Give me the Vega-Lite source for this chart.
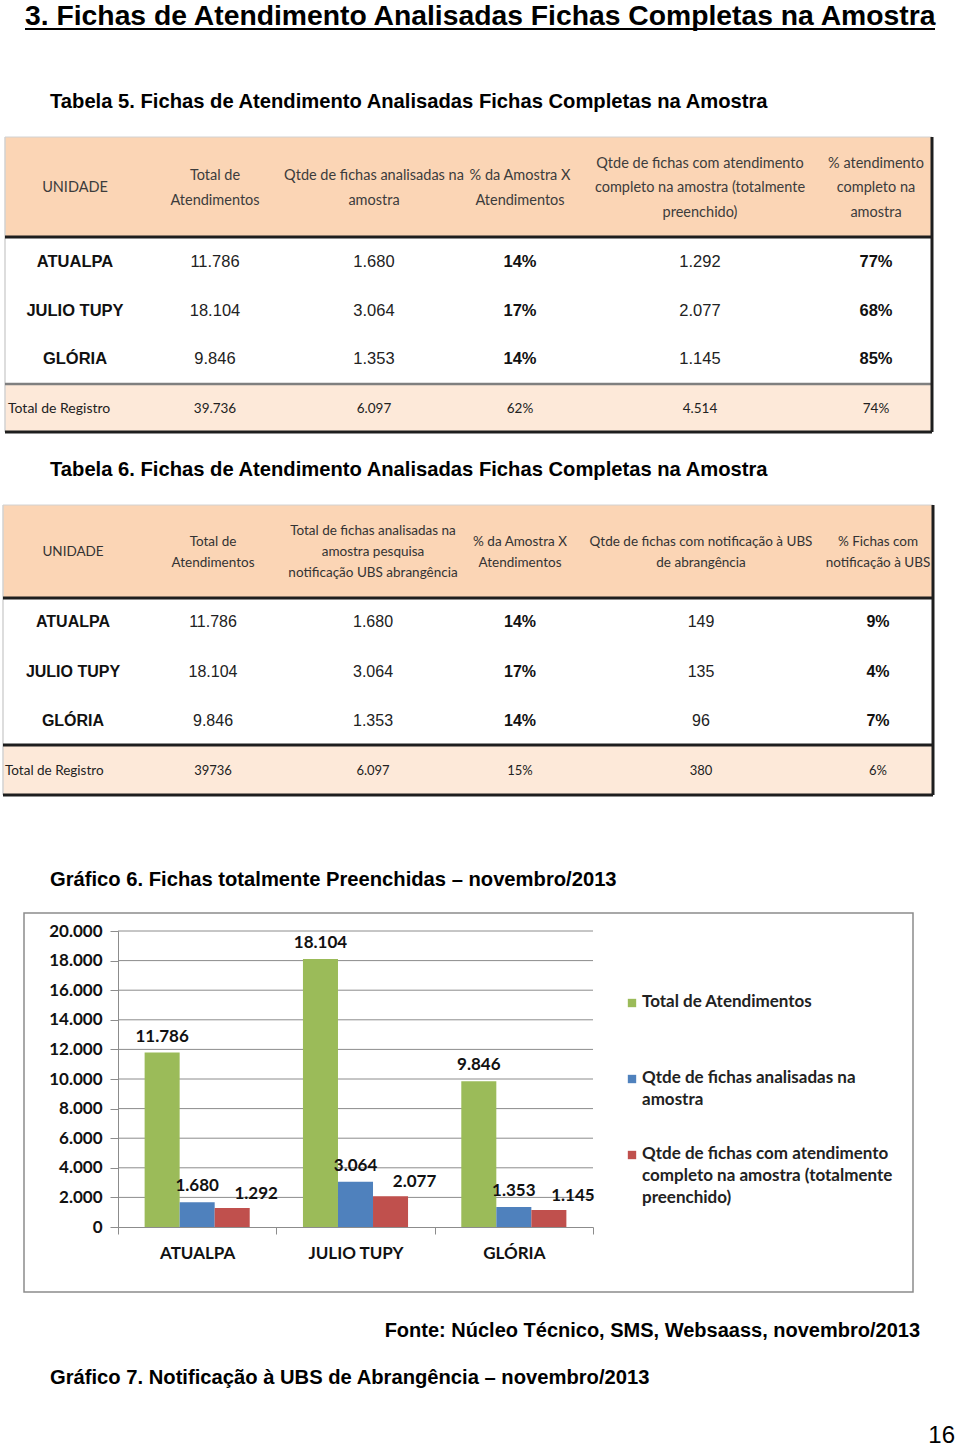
{
  "$schema": "https://vega.github.io/schema/vega-lite/v6.json",
  "width": 960,
  "height": 1447,
  "autosize": {"type": "none"},
  "padding": 0,
  "background": "#ffffff",
  "config": {
    "view": {"stroke": null},
    "locale": {"number": {"decimal": ",", "thousands": ".", "grouping": [3], "currency": ["R$ ", ""]}}
  },
  "datasets": {
    "textos": [
      {"ordem": 1, "nivel": 1, "texto": "3. Fichas de Atendimento Analisadas Fichas Completas na Amostra"},
      {"ordem": 2, "nivel": 2, "texto": "Tabela 5. Fichas de Atendimento Analisadas Fichas Completas na Amostra"},
      {"ordem": 3, "nivel": 2, "texto": "Tabela 6. Fichas de Atendimento Analisadas Fichas Completas na Amostra"},
      {"ordem": 4, "nivel": 2, "texto": "Gráfico 6. Fichas totalmente Preenchidas – novembro/2013"},
      {"ordem": 5, "nivel": 3, "texto": "Fonte: Núcleo Técnico, SMS, Websaass, novembro/2013"},
      {"ordem": 6, "nivel": 2, "texto": "Gráfico 7. Notificação à UBS de Abrangência – novembro/2013"},
      {"ordem": 7, "nivel": 4, "texto": "16"}
    ],
    "tabela5": [
      {"linha": 0, "coluna": 1, "texto": "UNIDADE"},
      {"linha": 0, "coluna": 2, "texto": "Total de\nAtendimentos"},
      {"linha": 0, "coluna": 3, "texto": "Qtde de fichas analisadas na\namostra"},
      {"linha": 0, "coluna": 4, "texto": "% da Amostra X\nAtendimentos"},
      {"linha": 0, "coluna": 5, "texto": "Qtde de fichas com atendimento\ncompleto na amostra (totalmente\npreenchido)"},
      {"linha": 0, "coluna": 6, "texto": "% atendimento\ncompleto na\namostra"},
      {"linha": 1, "coluna": 1, "texto": "ATUALPA"},
      {"linha": 1, "coluna": 2, "texto": "11.786"},
      {"linha": 1, "coluna": 3, "texto": "1.680"},
      {"linha": 1, "coluna": 4, "texto": "14%"},
      {"linha": 1, "coluna": 5, "texto": "1.292"},
      {"linha": 1, "coluna": 6, "texto": "77%"},
      {"linha": 2, "coluna": 1, "texto": "JULIO TUPY"},
      {"linha": 2, "coluna": 2, "texto": "18.104"},
      {"linha": 2, "coluna": 3, "texto": "3.064"},
      {"linha": 2, "coluna": 4, "texto": "17%"},
      {"linha": 2, "coluna": 5, "texto": "2.077"},
      {"linha": 2, "coluna": 6, "texto": "68%"},
      {"linha": 3, "coluna": 1, "texto": "GLÓRIA"},
      {"linha": 3, "coluna": 2, "texto": "9.846"},
      {"linha": 3, "coluna": 3, "texto": "1.353"},
      {"linha": 3, "coluna": 4, "texto": "14%"},
      {"linha": 3, "coluna": 5, "texto": "1.145"},
      {"linha": 3, "coluna": 6, "texto": "85%"},
      {"linha": 4, "coluna": 1, "texto": "Total de Registro"},
      {"linha": 4, "coluna": 2, "texto": "39.736"},
      {"linha": 4, "coluna": 3, "texto": "6.097"},
      {"linha": 4, "coluna": 4, "texto": "62%"},
      {"linha": 4, "coluna": 5, "texto": "4.514"},
      {"linha": 4, "coluna": 6, "texto": "74%"}
    ],
    "tabela6": [
      {"linha": 0, "coluna": 1, "texto": "UNIDADE"},
      {"linha": 0, "coluna": 2, "texto": "Total de\nAtendimentos"},
      {"linha": 0, "coluna": 3, "texto": "Total de fichas analisadas na\namostra pesquisa\nnotificação UBS abrangência"},
      {"linha": 0, "coluna": 4, "texto": "% da Amostra X\nAtendimentos"},
      {"linha": 0, "coluna": 5, "texto": "Qtde de fichas com notificação à UBS\nde abrangência"},
      {"linha": 0, "coluna": 6, "texto": "% Fichas com\nnotificação à UBS"},
      {"linha": 1, "coluna": 1, "texto": "ATUALPA"},
      {"linha": 1, "coluna": 2, "texto": "11.786"},
      {"linha": 1, "coluna": 3, "texto": "1.680"},
      {"linha": 1, "coluna": 4, "texto": "14%"},
      {"linha": 1, "coluna": 5, "texto": "149"},
      {"linha": 1, "coluna": 6, "texto": "9%"},
      {"linha": 2, "coluna": 1, "texto": "JULIO TUPY"},
      {"linha": 2, "coluna": 2, "texto": "18.104"},
      {"linha": 2, "coluna": 3, "texto": "3.064"},
      {"linha": 2, "coluna": 4, "texto": "17%"},
      {"linha": 2, "coluna": 5, "texto": "135"},
      {"linha": 2, "coluna": 6, "texto": "4%"},
      {"linha": 3, "coluna": 1, "texto": "GLÓRIA"},
      {"linha": 3, "coluna": 2, "texto": "9.846"},
      {"linha": 3, "coluna": 3, "texto": "1.353"},
      {"linha": 3, "coluna": 4, "texto": "14%"},
      {"linha": 3, "coluna": 5, "texto": "96"},
      {"linha": 3, "coluna": 6, "texto": "7%"},
      {"linha": 4, "coluna": 1, "texto": "Total de Registro"},
      {"linha": 4, "coluna": 2, "texto": "39736"},
      {"linha": 4, "coluna": 3, "texto": "6.097"},
      {"linha": 4, "coluna": 4, "texto": "15%"},
      {"linha": 4, "coluna": 5, "texto": "380"},
      {"linha": 4, "coluna": 6, "texto": "6%"}
    ],
    "grafico": [
      {"unidade": "ATUALPA", "serie": "Total de Atendimentos", "valor": 11786},
      {"unidade": "ATUALPA", "serie": "Qtde de fichas analisadas na amostra", "valor": 1680},
      {"unidade": "ATUALPA", "serie": "Qtde de fichas com atendimento completo na amostra (totalmente preenchido)", "valor": 1292},
      {"unidade": "JULIO TUPY", "serie": "Total de Atendimentos", "valor": 18104},
      {"unidade": "JULIO TUPY", "serie": "Qtde de fichas analisadas na amostra", "valor": 3064},
      {"unidade": "JULIO TUPY", "serie": "Qtde de fichas com atendimento completo na amostra (totalmente preenchido)", "valor": 2077},
      {"unidade": "GLÓRIA", "serie": "Total de Atendimentos", "valor": 9846},
      {"unidade": "GLÓRIA", "serie": "Qtde de fichas analisadas na amostra", "valor": 1353},
      {"unidade": "GLÓRIA", "serie": "Qtde de fichas com atendimento completo na amostra (totalmente preenchido)", "valor": 1145}
    ],
    "legenda": [
      {"serie": "Total de Atendimentos", "rotulo": "Total de Atendimentos"},
      {"serie": "Qtde de fichas analisadas na amostra", "rotulo": "Qtde de fichas analisadas na\namostra"},
      {"serie": "Qtde de fichas com atendimento completo na amostra (totalmente preenchido)", "rotulo": "Qtde de fichas com atendimento\ncompleto na amostra (totalmente\npreenchido)"}
    ],
    "grade": [
      {"v": 2000}, {"v": 4000}, {"v": 6000}, {"v": 8000}, {"v": 10000},
      {"v": 12000}, {"v": 14000}, {"v": 16000}, {"v": 18000}, {"v": 20000}
    ]
  },
  "layer": [
    {
      "data": {"name": "textos"},
      "transform": [{"filter": "datum.nivel <= 2"}],
      "mark": {"type": "text", "align": "left", "baseline": "alphabetic", "font": "Liberation Sans", "fontWeight": "bold", "color": "#000000"},
      "encoding": {
        "x": {"field": "nivel", "type": "quantitative", "scale": {"domain": [1, 2], "range": [25, 50], "nice": false, "zero": false}, "axis": null},
        "y": {"field": "ordem", "type": "quantitative", "scale": {"domain": [1, 2, 3, 4, 5, 6, 7], "range": [25, 108, 476, 886, 1337, 1384, 1444], "nice": false, "zero": false}, "axis": null},
        "size": {"field": "nivel", "type": "quantitative", "scale": {"domain": [1, 2], "range": [28.3, 20.2], "nice": false, "zero": false}, "legend": null},
        "text": {"field": "texto", "type": "nominal"}
      }
    },
    {
      "data": {"name": "textos"},
      "transform": [{"filter": "datum.ordem == 1"}],
      "mark": {"type": "rule", "color": "#000000", "strokeWidth": 2},
      "encoding": {
        "x": {"datum": 0, "type": "quantitative", "scale": {"domain": [0, 1], "range": [25, 935], "nice": false, "zero": false}, "axis": null},
        "x2": {"datum": 1},
        "y": {"field": "ordem", "type": "quantitative", "scale": {"domain": [1, 2], "range": [29, 30], "nice": false, "zero": false}, "axis": null}
      }
    },
    {
      "data": {"name": "textos"},
      "transform": [{"filter": "datum.ordem == 5"}],
      "mark": {"type": "text", "align": "right", "baseline": "alphabetic", "font": "Liberation Sans", "fontWeight": "bold", "fontSize": 20, "color": "#000000"},
      "encoding": {
        "x": {"field": "nivel", "type": "quantitative", "scale": {"domain": [3, 4], "range": [920, 955], "nice": false, "zero": false}, "axis": null},
        "y": {"field": "ordem", "type": "quantitative", "scale": {"domain": [1, 2, 3, 4, 5, 6, 7], "range": [25, 108, 476, 886, 1337, 1384, 1444], "nice": false, "zero": false}, "axis": null},
        "text": {"field": "texto", "type": "nominal"}
      }
    },
    {
      "data": {"name": "textos"},
      "transform": [{"filter": "datum.ordem == 7"}],
      "mark": {"type": "text", "align": "right", "baseline": "alphabetic", "font": "Liberation Sans", "fontSize": 24, "color": "#000000"},
      "encoding": {
        "x": {"field": "nivel", "type": "quantitative", "scale": {"domain": [3, 4], "range": [920, 955], "nice": false, "zero": false}, "axis": null},
        "y": {"field": "ordem", "type": "quantitative", "scale": {"domain": [1, 2, 3, 4, 5, 6, 7], "range": [25, 108, 476, 886, 1337, 1384, 1443], "nice": false, "zero": false}, "axis": null},
        "text": {"field": "texto", "type": "nominal"}
      }
    },
    {
      "data": {"name": "tabela5"},
      "layer": [
        {
          "transform": [{"filter": "datum.linha == 0 && datum.coluna == 1"}],
          "mark": {"type": "rect", "color": "#FBD5B5"},
          "encoding": {
            "x": {"datum": 0, "type": "quantitative", "scale": {"domain": [0, 1, 2, 3, 4, 5, 6, 7], "range": [5, 75, 215, 374, 520, 700, 876, 932], "nice": false, "zero": false}, "axis": null},
            "x2": {"datum": 7},
            "y": {"datum": -0.5, "type": "quantitative", "scale": {"domain": [-0.5, 0, 0.5, 1, 2, 3, 3.5, 4, 4.5], "range": [137, 188, 237, 262, 311, 359, 384, 409, 432], "nice": false, "zero": false}, "axis": null},
            "y2": {"datum": 0.5}
          }
        },
        {
          "transform": [{"filter": "datum.linha == 4 && datum.coluna == 1"}],
          "mark": {"type": "rect", "color": "#FDE9D9"},
          "encoding": {
            "x": {"datum": 0, "type": "quantitative", "scale": {"domain": [0, 1, 2, 3, 4, 5, 6, 7], "range": [5, 75, 215, 374, 520, 700, 876, 932], "nice": false, "zero": false}, "axis": null},
            "x2": {"datum": 7},
            "y": {"datum": 3.5, "type": "quantitative", "scale": {"domain": [-0.5, 0, 0.5, 1, 2, 3, 3.5, 4, 4.5], "range": [137, 188, 237, 262, 311, 359, 384, 409, 432], "nice": false, "zero": false}, "axis": null},
            "y2": {"datum": 4.5}
          }
        },
        {
          "transform": [{"filter": "datum.linha == 0 && datum.coluna == 1"}],
          "mark": {"type": "rule", "color": "#d2d2d2", "strokeWidth": 1},
          "encoding": {
            "x": {"datum": 0, "type": "quantitative", "scale": {"domain": [0, 1, 2, 3, 4, 5, 6, 7], "range": [5, 75, 215, 374, 520, 700, 876, 932], "nice": false, "zero": false}, "axis": null},
            "x2": {"datum": 7},
            "y": {"datum": -0.5, "type": "quantitative", "scale": {"domain": [-0.5, 0, 0.5, 1, 2, 3, 3.5, 4, 4.5], "range": [137, 188, 237, 262, 311, 359, 384, 409, 432], "nice": false, "zero": false}, "axis": null}
          }
        },
        {
          "transform": [{"filter": "datum.linha == 0 && datum.coluna == 1"}],
          "mark": {"type": "rule", "color": "#d2d2d2", "strokeWidth": 1.5},
          "encoding": {
            "x": {"datum": 0, "type": "quantitative", "scale": {"domain": [0, 1, 2, 3, 4, 5, 6, 7], "range": [5, 75, 215, 374, 520, 700, 876, 932], "nice": false, "zero": false}, "axis": null},
            "y": {"datum": -0.5, "type": "quantitative", "scale": {"domain": [-0.5, 0, 0.5, 1, 2, 3, 3.5, 4, 4.5], "range": [137, 188, 237, 262, 311, 359, 384, 409, 432], "nice": false, "zero": false}, "axis": null},
            "y2": {"datum": 4.5}
          }
        },
        {
          "transform": [{"filter": "datum.linha == 0 && datum.coluna == 1"}],
          "mark": {"type": "rule", "color": "#1e1e1e", "strokeWidth": 3},
          "encoding": {
            "x": {"datum": 0, "type": "quantitative", "scale": {"domain": [0, 1, 2, 3, 4, 5, 6, 7], "range": [5, 75, 215, 374, 520, 700, 876, 932], "nice": false, "zero": false}, "axis": null},
            "x2": {"datum": 7},
            "y": {"datum": 0.5, "type": "quantitative", "scale": {"domain": [-0.5, 0, 0.5, 1, 2, 3, 3.5, 4, 4.5], "range": [137, 188, 237, 262, 311, 359, 384, 409, 432], "nice": false, "zero": false}, "axis": null}
          }
        },
        {
          "transform": [{"filter": "datum.linha == 0 && datum.coluna == 1"}],
          "mark": {"type": "rule", "color": "#7f7f7f", "strokeWidth": 2.5},
          "encoding": {
            "x": {"datum": 0, "type": "quantitative", "scale": {"domain": [0, 1, 2, 3, 4, 5, 6, 7], "range": [5, 75, 215, 374, 520, 700, 876, 932], "nice": false, "zero": false}, "axis": null},
            "x2": {"datum": 7},
            "y": {"datum": 3.5, "type": "quantitative", "scale": {"domain": [-0.5, 0, 0.5, 1, 2, 3, 3.5, 4, 4.5], "range": [137, 188, 237, 262, 311, 359, 384, 409, 432], "nice": false, "zero": false}, "axis": null}
          }
        },
        {
          "transform": [{"filter": "datum.linha == 0 && datum.coluna == 1"}],
          "mark": {"type": "rule", "color": "#1e1e1e", "strokeWidth": 3},
          "encoding": {
            "x": {"datum": 0, "type": "quantitative", "scale": {"domain": [0, 1, 2, 3, 4, 5, 6, 7], "range": [5, 75, 215, 374, 520, 700, 876, 932], "nice": false, "zero": false}, "axis": null},
            "x2": {"datum": 7},
            "y": {"datum": 4.5, "type": "quantitative", "scale": {"domain": [-0.5, 0, 0.5, 1, 2, 3, 3.5, 4, 4.5], "range": [137, 188, 237, 262, 311, 359, 384, 409, 432], "nice": false, "zero": false}, "axis": null}
          }
        },
        {
          "transform": [{"filter": "datum.linha == 0 && datum.coluna == 1"}],
          "mark": {"type": "rule", "color": "#1e1e1e", "strokeWidth": 3},
          "encoding": {
            "x": {"datum": 7, "type": "quantitative", "scale": {"domain": [0, 1, 2, 3, 4, 5, 6, 7], "range": [5, 75, 215, 374, 520, 700, 876, 932], "nice": false, "zero": false}, "axis": null},
            "y": {"datum": -0.5, "type": "quantitative", "scale": {"domain": [-0.5, 0, 0.5, 1, 2, 3, 3.5, 4, 4.5], "range": [137, 188, 237, 262, 311, 359, 384, 409, 432], "nice": false, "zero": false}, "axis": null},
            "y2": {"datum": 4.5}
          }
        },
        {
          "transform": [{"filter": "datum.linha == 0 && datum.coluna == 1"}],
          "mark": {"type": "text", "font": "Lato", "fontSize": 14.5, "lineHeight": 24.5, "lineBreak": "\n", "color": "#3c3c3c", "align": "center", "baseline": "middle"},
          "encoding": {
            "x": {"field": "coluna", "type": "quantitative", "scale": {"domain": [0, 1, 2, 3, 4, 5, 6, 7], "range": [5, 75, 215, 374, 520, 700, 876, 932], "nice": false, "zero": false}, "axis": null},
            "y": {"field": "linha", "type": "quantitative", "scale": {"domain": [-0.5, 0, 0.5, 1, 2, 3, 3.5, 4, 4.5], "range": [137, 188, 237, 262, 311, 359, 384, 409, 432], "nice": false, "zero": false}, "axis": null},
            "text": {"field": "texto", "type": "nominal"}
          }
        },
        {
          "transform": [{"filter": "datum.linha == 0 && (datum.coluna == 2 || datum.coluna == 3 || datum.coluna == 4)"}],
          "mark": {"type": "text", "font": "Lato", "fontSize": 14.5, "lineHeight": 24.5, "lineBreak": "\n", "color": "#3c3c3c", "align": "center", "baseline": "middle", "dy": -12},
          "encoding": {
            "x": {"field": "coluna", "type": "quantitative", "scale": {"domain": [0, 1, 2, 3, 4, 5, 6, 7], "range": [5, 75, 215, 374, 520, 700, 876, 932], "nice": false, "zero": false}, "axis": null},
            "y": {"field": "linha", "type": "quantitative", "scale": {"domain": [-0.5, 0, 0.5, 1, 2, 3, 3.5, 4, 4.5], "range": [137, 188, 237, 262, 311, 359, 384, 409, 432], "nice": false, "zero": false}, "axis": null},
            "text": {"field": "texto", "type": "nominal"}
          }
        },
        {
          "transform": [{"filter": "datum.linha == 0 && (datum.coluna == 5 || datum.coluna == 6)"}],
          "mark": {"type": "text", "font": "Lato", "fontSize": 14.5, "lineHeight": 24.5, "lineBreak": "\n", "color": "#3c3c3c", "align": "center", "baseline": "middle", "dy": -24.5},
          "encoding": {
            "x": {"field": "coluna", "type": "quantitative", "scale": {"domain": [0, 1, 2, 3, 4, 5, 6, 7], "range": [5, 75, 215, 374, 520, 700, 876, 932], "nice": false, "zero": false}, "axis": null},
            "y": {"field": "linha", "type": "quantitative", "scale": {"domain": [-0.5, 0, 0.5, 1, 2, 3, 3.5, 4, 4.5], "range": [137, 188, 237, 262, 311, 359, 384, 409, 432], "nice": false, "zero": false}, "axis": null},
            "text": {"field": "texto", "type": "nominal"}
          }
        },
        {
          "transform": [{"filter": "datum.linha >= 1 && datum.linha <= 3 && (datum.coluna == 1 || datum.coluna == 4 || datum.coluna == 6)"}],
          "mark": {"type": "text", "font": "Liberation Sans", "fontWeight": "bold", "fontSize": 16.5, "color": "#111111", "align": "center", "baseline": "middle"},
          "encoding": {
            "x": {"field": "coluna", "type": "quantitative", "scale": {"domain": [0, 1, 2, 3, 4, 5, 6, 7], "range": [5, 75, 215, 374, 520, 700, 876, 932], "nice": false, "zero": false}, "axis": null},
            "y": {"field": "linha", "type": "quantitative", "scale": {"domain": [-0.5, 0, 0.5, 1, 2, 3, 3.5, 4, 4.5], "range": [137, 188, 237, 262, 311, 359, 384, 409, 432], "nice": false, "zero": false}, "axis": null},
            "text": {"field": "texto", "type": "nominal"}
          }
        },
        {
          "transform": [{"filter": "datum.linha >= 1 && datum.linha <= 3 && (datum.coluna == 2 || datum.coluna == 3 || datum.coluna == 5)"}],
          "mark": {"type": "text", "font": "Liberation Sans", "fontSize": 16.5, "color": "#222222", "align": "center", "baseline": "middle"},
          "encoding": {
            "x": {"field": "coluna", "type": "quantitative", "scale": {"domain": [0, 1, 2, 3, 4, 5, 6, 7], "range": [5, 75, 215, 374, 520, 700, 876, 932], "nice": false, "zero": false}, "axis": null},
            "y": {"field": "linha", "type": "quantitative", "scale": {"domain": [-0.5, 0, 0.5, 1, 2, 3, 3.5, 4, 4.5], "range": [137, 188, 237, 262, 311, 359, 384, 409, 432], "nice": false, "zero": false}, "axis": null},
            "text": {"field": "texto", "type": "nominal"}
          }
        },
        {
          "transform": [{"filter": "datum.linha == 4 && datum.coluna == 1"}],
          "mark": {"type": "text", "font": "Lato", "fontSize": 14, "color": "#222222", "align": "left", "baseline": "middle", "dx": 3},
          "encoding": {
            "x": {"datum": 0, "type": "quantitative", "scale": {"domain": [0, 1, 2, 3, 4, 5, 6, 7], "range": [5, 75, 215, 374, 520, 700, 876, 932], "nice": false, "zero": false}, "axis": null},
            "y": {"field": "linha", "type": "quantitative", "scale": {"domain": [-0.5, 0, 0.5, 1, 2, 3, 3.5, 4, 4.5], "range": [137, 188, 237, 262, 311, 359, 384, 409, 432], "nice": false, "zero": false}, "axis": null},
            "text": {"field": "texto", "type": "nominal"}
          }
        },
        {
          "transform": [{"filter": "datum.linha == 4 && datum.coluna > 1"}],
          "mark": {"type": "text", "font": "Lato", "fontSize": 13.5, "color": "#222222", "align": "center", "baseline": "middle"},
          "encoding": {
            "x": {"field": "coluna", "type": "quantitative", "scale": {"domain": [0, 1, 2, 3, 4, 5, 6, 7], "range": [5, 75, 215, 374, 520, 700, 876, 932], "nice": false, "zero": false}, "axis": null},
            "y": {"field": "linha", "type": "quantitative", "scale": {"domain": [-0.5, 0, 0.5, 1, 2, 3, 3.5, 4, 4.5], "range": [137, 188, 237, 262, 311, 359, 384, 409, 432], "nice": false, "zero": false}, "axis": null},
            "text": {"field": "texto", "type": "nominal"}
          }
        }
      ]
    },
    {
      "data": {"name": "tabela6"},
      "layer": [
        {
          "transform": [{"filter": "datum.linha == 0 && datum.coluna == 1"}],
          "mark": {"type": "rect", "color": "#FBD5B5"},
          "encoding": {
            "x": {"datum": 0, "type": "quantitative", "scale": {"domain": [0, 1, 2, 3, 4, 5, 6, 7], "range": [3, 73, 213, 373, 520, 701, 878, 933], "nice": false, "zero": false}, "axis": null},
            "x2": {"datum": 7},
            "y": {"datum": -0.5, "type": "quantitative", "scale": {"domain": [-0.5, 0, 0.5, 1, 2, 3, 3.5, 4, 4.5], "range": [505, 552, 598, 622, 672, 721, 745, 771, 795], "nice": false, "zero": false}, "axis": null},
            "y2": {"datum": 0.5}
          }
        },
        {
          "transform": [{"filter": "datum.linha == 4 && datum.coluna == 1"}],
          "mark": {"type": "rect", "color": "#FDE9D9"},
          "encoding": {
            "x": {"datum": 0, "type": "quantitative", "scale": {"domain": [0, 1, 2, 3, 4, 5, 6, 7], "range": [3, 73, 213, 373, 520, 701, 878, 933], "nice": false, "zero": false}, "axis": null},
            "x2": {"datum": 7},
            "y": {"datum": 3.5, "type": "quantitative", "scale": {"domain": [-0.5, 0, 0.5, 1, 2, 3, 3.5, 4, 4.5], "range": [505, 552, 598, 622, 672, 721, 745, 771, 795], "nice": false, "zero": false}, "axis": null},
            "y2": {"datum": 4.5}
          }
        },
        {
          "transform": [{"filter": "datum.linha == 0 && datum.coluna == 1"}],
          "mark": {"type": "rule", "color": "#d2d2d2", "strokeWidth": 1},
          "encoding": {
            "x": {"datum": 0, "type": "quantitative", "scale": {"domain": [0, 1, 2, 3, 4, 5, 6, 7], "range": [3, 73, 213, 373, 520, 701, 878, 933], "nice": false, "zero": false}, "axis": null},
            "x2": {"datum": 7},
            "y": {"datum": -0.5, "type": "quantitative", "scale": {"domain": [-0.5, 0, 0.5, 1, 2, 3, 3.5, 4, 4.5], "range": [505, 552, 598, 622, 672, 721, 745, 771, 795], "nice": false, "zero": false}, "axis": null}
          }
        },
        {
          "transform": [{"filter": "datum.linha == 0 && datum.coluna == 1"}],
          "mark": {"type": "rule", "color": "#d2d2d2", "strokeWidth": 1.5},
          "encoding": {
            "x": {"datum": 0, "type": "quantitative", "scale": {"domain": [0, 1, 2, 3, 4, 5, 6, 7], "range": [3, 73, 213, 373, 520, 701, 878, 933], "nice": false, "zero": false}, "axis": null},
            "y": {"datum": -0.5, "type": "quantitative", "scale": {"domain": [-0.5, 0, 0.5, 1, 2, 3, 3.5, 4, 4.5], "range": [505, 552, 598, 622, 672, 721, 745, 771, 795], "nice": false, "zero": false}, "axis": null},
            "y2": {"datum": 4.5}
          }
        },
        {
          "transform": [{"filter": "datum.linha == 0 && datum.coluna == 1"}],
          "mark": {"type": "rule", "color": "#1e1e1e", "strokeWidth": 3},
          "encoding": {
            "x": {"datum": 0, "type": "quantitative", "scale": {"domain": [0, 1, 2, 3, 4, 5, 6, 7], "range": [3, 73, 213, 373, 520, 701, 878, 933], "nice": false, "zero": false}, "axis": null},
            "x2": {"datum": 7},
            "y": {"datum": 0.5, "type": "quantitative", "scale": {"domain": [-0.5, 0, 0.5, 1, 2, 3, 3.5, 4, 4.5], "range": [505, 552, 598, 622, 672, 721, 745, 771, 795], "nice": false, "zero": false}, "axis": null}
          }
        },
        {
          "transform": [{"filter": "datum.linha == 0 && datum.coluna == 1"}],
          "mark": {"type": "rule", "color": "#1e1e1e", "strokeWidth": 3},
          "encoding": {
            "x": {"datum": 0, "type": "quantitative", "scale": {"domain": [0, 1, 2, 3, 4, 5, 6, 7], "range": [3, 73, 213, 373, 520, 701, 878, 933], "nice": false, "zero": false}, "axis": null},
            "x2": {"datum": 7},
            "y": {"datum": 3.5, "type": "quantitative", "scale": {"domain": [-0.5, 0, 0.5, 1, 2, 3, 3.5, 4, 4.5], "range": [505, 552, 598, 622, 672, 721, 745, 771, 795], "nice": false, "zero": false}, "axis": null}
          }
        },
        {
          "transform": [{"filter": "datum.linha == 0 && datum.coluna == 1"}],
          "mark": {"type": "rule", "color": "#1e1e1e", "strokeWidth": 3},
          "encoding": {
            "x": {"datum": 0, "type": "quantitative", "scale": {"domain": [0, 1, 2, 3, 4, 5, 6, 7], "range": [3, 73, 213, 373, 520, 701, 878, 933], "nice": false, "zero": false}, "axis": null},
            "x2": {"datum": 7},
            "y": {"datum": 4.5, "type": "quantitative", "scale": {"domain": [-0.5, 0, 0.5, 1, 2, 3, 3.5, 4, 4.5], "range": [505, 552, 598, 622, 672, 721, 745, 771, 795], "nice": false, "zero": false}, "axis": null}
          }
        },
        {
          "transform": [{"filter": "datum.linha == 0 && datum.coluna == 1"}],
          "mark": {"type": "rule", "color": "#1e1e1e", "strokeWidth": 3},
          "encoding": {
            "x": {"datum": 7, "type": "quantitative", "scale": {"domain": [0, 1, 2, 3, 4, 5, 6, 7], "range": [3, 73, 213, 373, 520, 701, 878, 933], "nice": false, "zero": false}, "axis": null},
            "y": {"datum": -0.5, "type": "quantitative", "scale": {"domain": [-0.5, 0, 0.5, 1, 2, 3, 3.5, 4, 4.5], "range": [505, 552, 598, 622, 672, 721, 745, 771, 795], "nice": false, "zero": false}, "axis": null},
            "y2": {"datum": 4.5}
          }
        },
        {
          "transform": [{"filter": "datum.linha == 0 && datum.coluna == 1"}],
          "mark": {"type": "text", "font": "Lato", "fontSize": 13.5, "lineHeight": 21, "lineBreak": "\n", "color": "#333333", "align": "center", "baseline": "middle"},
          "encoding": {
            "x": {"field": "coluna", "type": "quantitative", "scale": {"domain": [0, 1, 2, 3, 4, 5, 6, 7], "range": [3, 73, 213, 373, 520, 701, 878, 933], "nice": false, "zero": false}, "axis": null},
            "y": {"field": "linha", "type": "quantitative", "scale": {"domain": [-0.5, 0, 0.5, 1, 2, 3, 3.5, 4, 4.5], "range": [505, 552, 598, 622, 672, 721, 745, 771, 795], "nice": false, "zero": false}, "axis": null},
            "text": {"field": "texto", "type": "nominal"}
          }
        },
        {
          "transform": [{"filter": "datum.linha == 0 && (datum.coluna == 2 || datum.coluna == 4 || datum.coluna == 5 || datum.coluna == 6)"}],
          "mark": {"type": "text", "font": "Lato", "fontSize": 13.5, "lineHeight": 21, "lineBreak": "\n", "color": "#333333", "align": "center", "baseline": "middle", "dy": -10.5},
          "encoding": {
            "x": {"field": "coluna", "type": "quantitative", "scale": {"domain": [0, 1, 2, 3, 4, 5, 6, 7], "range": [3, 73, 213, 373, 520, 701, 878, 933], "nice": false, "zero": false}, "axis": null},
            "y": {"field": "linha", "type": "quantitative", "scale": {"domain": [-0.5, 0, 0.5, 1, 2, 3, 3.5, 4, 4.5], "range": [505, 552, 598, 622, 672, 721, 745, 771, 795], "nice": false, "zero": false}, "axis": null},
            "text": {"field": "texto", "type": "nominal"}
          }
        },
        {
          "transform": [{"filter": "datum.linha == 0 && datum.coluna == 3"}],
          "mark": {"type": "text", "font": "Lato", "fontSize": 13.5, "lineHeight": 21, "lineBreak": "\n", "color": "#333333", "align": "center", "baseline": "middle", "dy": -21},
          "encoding": {
            "x": {"field": "coluna", "type": "quantitative", "scale": {"domain": [0, 1, 2, 3, 4, 5, 6, 7], "range": [3, 73, 213, 373, 520, 701, 878, 933], "nice": false, "zero": false}, "axis": null},
            "y": {"field": "linha", "type": "quantitative", "scale": {"domain": [-0.5, 0, 0.5, 1, 2, 3, 3.5, 4, 4.5], "range": [505, 552, 598, 622, 672, 721, 745, 771, 795], "nice": false, "zero": false}, "axis": null},
            "text": {"field": "texto", "type": "nominal"}
          }
        },
        {
          "transform": [{"filter": "datum.linha >= 1 && datum.linha <= 3 && (datum.coluna == 1 || datum.coluna == 4 || datum.coluna == 6)"}],
          "mark": {"type": "text", "font": "Liberation Sans", "fontWeight": "bold", "fontSize": 16, "color": "#111111", "align": "center", "baseline": "middle"},
          "encoding": {
            "x": {"field": "coluna", "type": "quantitative", "scale": {"domain": [0, 1, 2, 3, 4, 5, 6, 7], "range": [3, 73, 213, 373, 520, 701, 878, 933], "nice": false, "zero": false}, "axis": null},
            "y": {"field": "linha", "type": "quantitative", "scale": {"domain": [-0.5, 0, 0.5, 1, 2, 3, 3.5, 4, 4.5], "range": [505, 552, 598, 622, 672, 721, 745, 771, 795], "nice": false, "zero": false}, "axis": null},
            "text": {"field": "texto", "type": "nominal"}
          }
        },
        {
          "transform": [{"filter": "datum.linha >= 1 && datum.linha <= 3 && (datum.coluna == 2 || datum.coluna == 3 || datum.coluna == 5)"}],
          "mark": {"type": "text", "font": "Liberation Sans", "fontSize": 16, "color": "#222222", "align": "center", "baseline": "middle"},
          "encoding": {
            "x": {"field": "coluna", "type": "quantitative", "scale": {"domain": [0, 1, 2, 3, 4, 5, 6, 7], "range": [3, 73, 213, 373, 520, 701, 878, 933], "nice": false, "zero": false}, "axis": null},
            "y": {"field": "linha", "type": "quantitative", "scale": {"domain": [-0.5, 0, 0.5, 1, 2, 3, 3.5, 4, 4.5], "range": [505, 552, 598, 622, 672, 721, 745, 771, 795], "nice": false, "zero": false}, "axis": null},
            "text": {"field": "texto", "type": "nominal"}
          }
        },
        {
          "transform": [{"filter": "datum.linha == 4 && datum.coluna == 1"}],
          "mark": {"type": "text", "font": "Lato", "fontSize": 13.5, "color": "#222222", "align": "left", "baseline": "middle", "dx": 2},
          "encoding": {
            "x": {"datum": 0, "type": "quantitative", "scale": {"domain": [0, 1, 2, 3, 4, 5, 6, 7], "range": [3, 73, 213, 373, 520, 701, 878, 933], "nice": false, "zero": false}, "axis": null},
            "y": {"field": "linha", "type": "quantitative", "scale": {"domain": [-0.5, 0, 0.5, 1, 2, 3, 3.5, 4, 4.5], "range": [505, 552, 598, 622, 672, 721, 745, 771, 795], "nice": false, "zero": false}, "axis": null},
            "text": {"field": "texto", "type": "nominal"}
          }
        },
        {
          "transform": [{"filter": "datum.linha == 4 && datum.coluna > 1"}],
          "mark": {"type": "text", "font": "Lato", "fontSize": 13, "color": "#222222", "align": "center", "baseline": "middle"},
          "encoding": {
            "x": {"field": "coluna", "type": "quantitative", "scale": {"domain": [0, 1, 2, 3, 4, 5, 6, 7], "range": [3, 73, 213, 373, 520, 701, 878, 933], "nice": false, "zero": false}, "axis": null},
            "y": {"field": "linha", "type": "quantitative", "scale": {"domain": [-0.5, 0, 0.5, 1, 2, 3, 3.5, 4, 4.5], "range": [505, 552, 598, 622, 672, 721, 745, 771, 795], "nice": false, "zero": false}, "axis": null},
            "text": {"field": "texto", "type": "nominal"}
          }
        }
      ]
    },
    {
      "data": {"values": [{"quadro": "Gráfico 6"}]},
      "mark": {"type": "rect", "fillOpacity": 0, "stroke": "#8c8c8c", "strokeWidth": 1.5},
      "encoding": {
        "x": {"datum": 0, "type": "quantitative", "scale": {"domain": [0, 1], "range": [24, 913], "nice": false, "zero": false}, "axis": null},
        "x2": {"datum": 1},
        "y": {"datum": 0, "type": "quantitative", "scale": {"domain": [0, 1], "range": [913, 1292], "nice": false, "zero": false}, "axis": null},
        "y2": {"datum": 1}
      }
    },
    {
      "data": {"name": "grade"},
      "mark": {"type": "rule", "color": "#8c8c8c", "strokeWidth": 1},
      "encoding": {
        "x": {"datum": 0, "type": "quantitative", "scale": {"domain": [0, 1], "range": [118, 593], "nice": false, "zero": false}, "axis": null},
        "x2": {"datum": 1},
        "y": {"field": "v", "type": "quantitative", "scale": {"domain": [0, 20000], "range": [1227, 931], "nice": false, "zero": false}, "axis": null}
      }
    },
    {
      "data": {"name": "grafico"},
      "layer": [
        {
          "mark": {"type": "bar"},
          "encoding": {
            "x": {"field": "unidade", "type": "nominal", "sort": null, "scale": {"domain": ["ATUALPA", "JULIO TUPY", "GLÓRIA"], "range": [118, 593], "paddingInner": 0, "paddingOuter": 0},
              "axis": {"orient": "bottom", "offset": -220, "title": null, "tickBand": "extent", "tickSize": 7, "tickColor": "#8c8c8c", "domainColor": "#8c8c8c", "labelAngle": 0, "labelFont": "Lato", "labelFontWeight": "bold", "labelFontSize": 17, "labelColor": "#111111", "labelPadding": 11, "grid": false}},
            "xOffset": {"field": "serie", "type": "nominal", "sort": null, "scale": {"domain": ["Total de Atendimentos", "Qtde de fichas analisadas na amostra", "Qtde de fichas com atendimento completo na amostra (totalmente preenchido)"], "paddingInner": 0, "paddingOuter": 0.76}},
            "y": {"field": "valor", "type": "quantitative", "scale": {"domain": [0, 20000], "range": [1227, 931], "nice": false, "zero": false},
              "axis": {"orient": "left", "offset": -118, "title": null, "values": [0, 2000, 4000, 6000, 8000, 10000, 12000, 14000, 16000, 18000, 20000], "format": ",d", "tickSize": 8, "tickColor": "#8c8c8c", "domainColor": "#8c8c8c", "labelFont": "Lato", "labelFontWeight": "bold", "labelFontSize": 17, "labelColor": "#111111", "labelPadding": 8, "grid": false}},
            "color": {"field": "serie", "type": "nominal", "scale": {"domain": ["Total de Atendimentos", "Qtde de fichas analisadas na amostra", "Qtde de fichas com atendimento completo na amostra (totalmente preenchido)"], "range": ["#9BBB59", "#4F81BD", "#C0504D"]}, "legend": null}
          }
        },
        {
          "transform": [{"filter": {"field": "serie", "oneOf": ["Total de Atendimentos", "Qtde de fichas analisadas na amostra"]}}],
          "mark": {"type": "text", "font": "Lato", "fontWeight": "bold", "fontSize": 17, "color": "#111111", "baseline": "bottom", "align": "center", "dy": -7},
          "encoding": {
            "x": {"field": "unidade", "type": "nominal", "sort": null, "scale": {"domain": ["ATUALPA", "JULIO TUPY", "GLÓRIA"], "range": [118, 593], "paddingInner": 0, "paddingOuter": 0}},
            "xOffset": {"field": "serie", "type": "nominal", "sort": null, "scale": {"domain": ["Total de Atendimentos", "Qtde de fichas analisadas na amostra", "Qtde de fichas com atendimento completo na amostra (totalmente preenchido)"], "paddingInner": 0, "paddingOuter": 0.76}},
            "y": {"field": "valor", "type": "quantitative", "scale": {"domain": [0, 20000], "range": [1227, 931], "nice": false, "zero": false}},
            "text": {"field": "valor", "type": "quantitative", "format": ",d"}
          }
        },
        {
          "transform": [{"filter": {"field": "serie", "oneOf": ["Qtde de fichas com atendimento completo na amostra (totalmente preenchido)"]}}],
          "mark": {"type": "text", "font": "Lato", "fontWeight": "bold", "fontSize": 17, "color": "#111111", "baseline": "bottom", "align": "center", "dy": -5, "dx": 24},
          "encoding": {
            "x": {"field": "unidade", "type": "nominal", "sort": null, "scale": {"domain": ["ATUALPA", "JULIO TUPY", "GLÓRIA"], "range": [118, 593], "paddingInner": 0, "paddingOuter": 0}},
            "xOffset": {"field": "serie", "type": "nominal", "sort": null, "scale": {"domain": ["Total de Atendimentos", "Qtde de fichas analisadas na amostra", "Qtde de fichas com atendimento completo na amostra (totalmente preenchido)"], "paddingInner": 0, "paddingOuter": 0.76}},
            "y": {"field": "valor", "type": "quantitative", "scale": {"domain": [0, 20000], "range": [1227, 931], "nice": false, "zero": false}},
            "text": {"field": "valor", "type": "quantitative", "format": ",d"}
          }
        }
      ]
    },
    {
      "data": {"name": "legenda"},
      "mark": {"type": "point", "shape": "square", "filled": true, "size": 70, "opacity": 1},
      "encoding": {
        "x": {"datum": 0, "type": "quantitative", "scale": {"domain": [0, 1], "range": [632, 700], "nice": false, "zero": false}, "axis": null},
        "y": {"field": "serie", "type": "nominal", "sort": null, "scale": {"type": "band", "domain": ["Total de Atendimentos", "Qtde de fichas analisadas na amostra", "Qtde de fichas com atendimento completo na amostra (totalmente preenchido)"], "range": [965, 1193], "paddingInner": 0, "paddingOuter": 0}, "axis": null},
        "color": {"field": "serie", "type": "nominal", "scale": {"domain": ["Total de Atendimentos", "Qtde de fichas analisadas na amostra", "Qtde de fichas com atendimento completo na amostra (totalmente preenchido)"], "range": ["#9BBB59", "#4F81BD", "#C0504D"]}, "legend": null}
      }
    },
    {
      "data": {"name": "legenda"},
      "mark": {"type": "text", "font": "Lato", "fontWeight": "bold", "fontSize": 17, "lineHeight": 22, "lineBreak": "\n", "color": "#222222", "align": "left", "baseline": "top", "dy": -10},
      "encoding": {
        "x": {"datum": 0, "type": "quantitative", "scale": {"domain": [0, 1], "range": [642, 700], "nice": false, "zero": false}, "axis": null},
        "y": {"field": "serie", "type": "nominal", "sort": null, "scale": {"type": "band", "domain": ["Total de Atendimentos", "Qtde de fichas analisadas na amostra", "Qtde de fichas com atendimento completo na amostra (totalmente preenchido)"], "range": [966, 1194], "paddingInner": 0, "paddingOuter": 0}, "axis": null},
        "text": {"field": "rotulo", "type": "nominal"}
      }
    }
  ],
  "resolve": {
    "scale": {"x": "independent", "y": "independent", "xOffset": "independent", "color": "independent", "size": "independent"},
    "axis": {"x": "independent", "y": "independent"},
    "legend": {"color": "independent", "size": "independent"}
  }
}
